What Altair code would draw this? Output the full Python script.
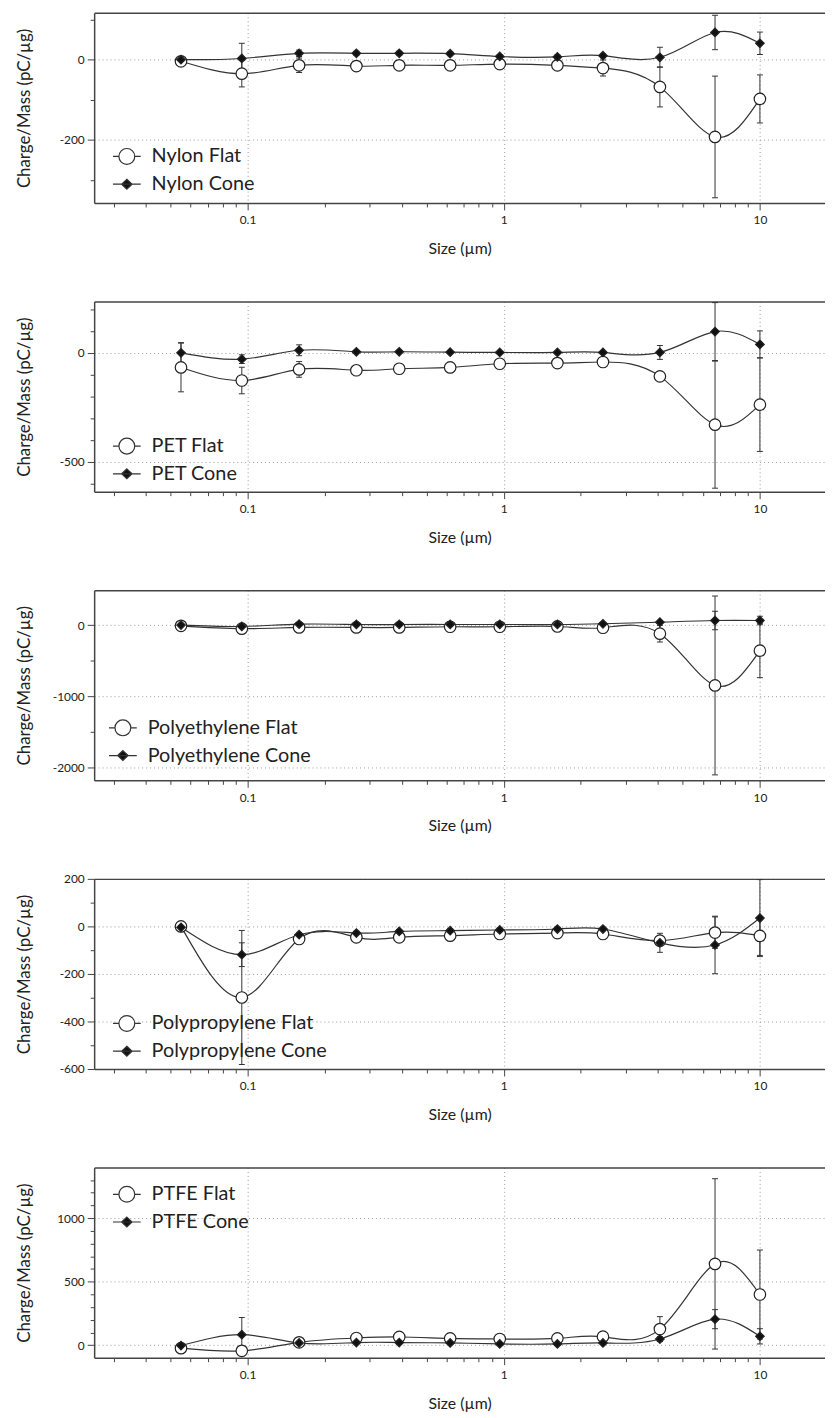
import altair as alt
import pandas as pd

# ---------------- data ----------------
sizes = [0.055, 0.095, 0.159, 0.266, 0.391, 0.618, 0.965, 1.62, 2.44, 4.07, 6.68, 10.0]

materials = ["Nylon", "PET", "Polyethylene", "Polypropylene", "PTFE"]

nylon_flat = [-4, -35, -14, -16, -14, -14, -11, -14, -21, -68, -193, -98]
nylon_flat_err = [4, 33, 18, 6, 6, 6, 6, 6, 20, 50, 152, 60]
nylon_cone = [0, 3, 16, 16, 16, 15, 8, 7, 10, 6, 68, 41]
nylon_cone_err = [3, 38, 8, 5, 5, 5, 5, 5, 5, 25, 43, 28]

pet_flat = [-67, -127, -76, -80, -73, -67, -50, -47, -42, -108, -330, -238]
pet_flat_err = [112, 61, 36, 10, 10, 10, 8, 8, 8, 15, 292, 215]
pet_cone = [0, -29, 12, 5, 5, 3, 2, 2, 2, 2, 98, 39]
pet_cone_err = [47, 20, 25, 5, 5, 5, 5, 5, 5, 32, 133, 62]

pe_flat = [-10, -50, -33, -33, -33, -23, -23, -19, -37, -121, -850, -360]
pe_flat_err = [10, 15, 10, 10, 10, 10, 10, 10, 15, 117, 1260, 380]
pe_cone = [0, -19, 14, 9, 9, 9, 9, 9, 19, 42, 65, 65]
pe_cone_err = [10, 10, 10, 10, 10, 10, 10, 10, 10, 10, 130, 60]

pp_flat = [0, -299, -53, -46, -46, -39, -32, -28, -32, -60, -26, -40]
pp_flat_err = [5, 282, 10, 10, 10, 8, 8, 8, 8, 15, 66, 82]
pp_cone = [-4, -119, -35, -28, -21, -18, -15, -11, -11, -69, -78, 35]
pp_cone_err = [5, 50, 8, 8, 8, 8, 8, 8, 8, 40, 121, 162]

ptfe_flat = [-23, -44, 23, 57, 65, 54, 49, 54, 67, 127, 640, 399]
ptfe_flat_err = [10, 10, 10, 10, 10, 10, 10, 10, 10, 98, 670, 350]
ptfe_cone = [-3, 83, 18, 21, 21, 18, 10, 10, 18, 49, 205, 70]
ptfe_cone_err = [10, 135, 10, 10, 10, 10, 10, 10, 10, 20, 75, 60]

# axis tick values and labels
x_ticks = [0.03, 0.04, 0.05, 0.06, 0.07, 0.08, 0.09,
           0.1, 0.2, 0.3, 0.4, 0.5, 0.6, 0.7, 0.8, 0.9,
           1, 2, 3, 4, 5, 6, 7, 8, 9, 10]
x_labels = [0.1, 1, 10]

y_domains = [[-358, 117], [-638, 236], [-2187, 492], [-600, 200], [-98, 1398]]
y_ticks = [
    [-300, -200, -100, 0, 100],
    [-600, -500, -400, -300, -200, -100, 0, 100, 200],
    [-2000, -1500, -1000, -500, 0],
    [-600, -500, -400, -300, -200, -100, 0, 100, 200],
    [0, 100, 200, 300, 400, 500, 600, 700, 800, 900, 1000, 1100, 1200, 1300],
]
y_labels = [
    [0, -200],
    [0, -500],
    [0, -1000, -2000],
    [200, 0, -200, -400, -600],
    [0, 500, 1000],
]

series_values = [
    (nylon_flat, nylon_flat_err, nylon_cone, nylon_cone_err),
    (pet_flat, pet_flat_err, pet_cone, pet_cone_err),
    (pe_flat, pe_flat_err, pe_cone, pe_cone_err),
    (pp_flat, pp_flat_err, pp_cone, pp_cone_err),
    (ptfe_flat, ptfe_flat_err, ptfe_cone, ptfe_cone_err),
]

legend_pos = [(22, 134), (22, 135), (18, 128), (22, 135), (22, 16)]

# ---------------- style ----------------
FONT = "Lato"
INK = "#222222"
LINE = "#333333"
FRAME = "#444444"
W, H = 738, 192
TITLE_Y = "Charge/Mass (pC/µg)"

PATH_O = "M-1.4,0H-0.8M0.8,0H1.4M0.8,0A0.8,0.8,0,1,1,-0.8,0A0.8,0.8,0,1,1,0.8,0Z"
PATH_D = "M-1.4,0H1.4M0,-0.5L0.53,0L0,0.5L-0.53,0Z"


def in_list(vals):
    return "indexof([" + ",".join(str(v) for v in vals) + "], datum.value) >= 0"


def panel(i):
    name = materials[i]
    flat, flat_err, cone, cone_err = series_values[i]
    fname, cname = f"{name} Flat", f"{name} Cone"
    rows = []
    for s, v, e in zip(sizes, flat, flat_err):
        rows.append({"size": s, "value": v, "err": e, "series": fname})
    for s, v, e in zip(sizes, cone, cone_err):
        rows.append({"size": s, "value": v, "err": e, "series": cname})
    df = pd.DataFrame(rows)

    xlab = in_list(x_labels)
    xscale = alt.Scale(type="log", domain=[0.0252, 17.95], nice=False)
    xaxis = alt.Axis(
        values=x_ticks,
        labelExpr=f"{xlab} ? '' + datum.value : ''",
        tickSize={"condition": {"test": xlab, "value": 7}, "value": 4},
        grid=True,
        gridOpacity={"condition": {"test": xlab, "value": 1}, "value": 0},
        gridDash=[1, 3], gridColor="#9a9a9a", gridWidth=1,
        domain=True, domainColor=FRAME, domainWidth=1.5,
        tickColor="#444", tickWidth=1,
        labelFont=FONT, labelFontSize=12, labelColor=INK, labelPadding=5,
        labelOverlap=False, labelFlush=False,
        title="Size (µm)", titleFont=FONT, titleFontSize=16,
        titleFontWeight="normal", titleColor=INK, titlePadding=15,
    )
    top_axis = alt.Axis(
        orient="top", labels=False, ticks=False, grid=False, title=None,
        domain=True, domainColor=FRAME, domainWidth=1.5,
    )
    ylab = in_list(y_labels[i])
    yscale = alt.Scale(domain=y_domains[i], nice=False, zero=False)
    yaxis = alt.Axis(
        values=y_ticks[i],
        labelExpr=f"{ylab} ? '' + datum.value : ''",
        tickSize={"condition": {"test": ylab, "value": 7}, "value": 4},
        grid=True,
        gridOpacity={"condition": {"test": ylab, "value": 1}, "value": 0},
        gridDash=[1, 3], gridColor="#9a9a9a", gridWidth=1,
        domain=True, domainColor=FRAME, domainWidth=1.5,
        tickColor="#444", tickWidth=1,
        labelFont=FONT, labelFontSize=12, labelColor=INK, labelPadding=3,
        labelOverlap=False, labelFlush=False,
        title=TITLE_Y, titleFont=FONT, titleFontSize=17,
        titleFontWeight="normal", titleColor=INK,
        titleAngle=-90, titleX=-70, titleY=H / 2,
        titleAlign="center", titleBaseline="middle",
    )

    def X(axis=None):
        return alt.X("size:Q", scale=xscale, axis=axis, title="Size (µm)")

    def Y(field):
        return alt.Y(field, scale=yscale, axis=yaxis, title=TITLE_Y)

    base = alt.Chart(df)
    lines = base.mark_line(interpolate="natural", color=LINE, strokeWidth=1.2).encode(
        x=X(xaxis), y=Y("value:Q"), detail="series:N"
    )
    withbounds = base.transform_calculate(
        lo="datum.value - datum.err", hi="datum.value + datum.err"
    )
    bars = withbounds.mark_rule(color=LINE, strokeWidth=1).encode(
        x=X(), y=Y("lo:Q"), y2="hi:Q"
    )
    caps = withbounds.transform_fold(["lo", "hi"], as_=["end", "cap"]).mark_tick(
        orient="horizontal", size=6, thickness=1, color=LINE, opacity=1
    ).encode(x=X(), y=Y("cap:Q"))

    flat_pts = base.transform_filter(f"datum.series === '{fname}'").mark_point(
        shape="circle", filled=True, fill="white", opacity=1,
        stroke="#222222", strokeWidth=1.2, size=135,
    ).encode(x=X(), y=Y("value:Q"))
    cone_pts = base.transform_filter(f"datum.series === '{cname}'").mark_point(
        shape="diamond", filled=True, fill="#111111", opacity=1,
        stroke="#222222", strokeWidth=1.2, size=75,
    ).encode(x=X(), y=Y("value:Q"))

    legend = alt.Legend(
        orient="none", legendX=legend_pos[i][0], legendY=legend_pos[i][1],
        title=None, labelFont=FONT, labelFontSize=20, labelColor=INK,
        symbolSize=400, labelOffset=14, rowPadding=6, padding=0,
        symbolStrokeWidth=1.2, symbolOpacity=1, labelLimit=400,
    )
    dom = [fname, cname]
    key = base.transform_filter("false").mark_point(
        filled=True, opacity=1, strokeWidth=1.2, size=400
    ).encode(
        x=X(top_axis), y=Y("value:Q"),
        shape=alt.Shape("series:N", scale=alt.Scale(domain=dom, range=[PATH_O, PATH_D]), legend=legend),
        fill=alt.Fill("series:N", scale=alt.Scale(domain=dom, range=["white", "#111111"]), legend=legend),
        stroke=alt.Stroke("series:N", scale=alt.Scale(domain=dom, range=[LINE, LINE]), legend=legend),
    )
    return alt.layer(lines, bars, caps, flat_pts, cone_pts, key).resolve_axis(
        x="independent"
    ).properties(width=W, height=H)


chart = alt.vconcat(*[panel(i) for i in range(5)], spacing=99.5, bounds="flush").resolve_scale(
    shape="independent", fill="independent", stroke="independent"
).resolve_legend(
    shape="independent", fill="independent", stroke="independent"
).properties(
    padding={"left": 7, "top": -2, "right": 0, "bottom": 0}
).configure(background="white").configure_view(stroke=None)

chart.save("out.html", embed_options={"renderer": "svg", "actions": False})
